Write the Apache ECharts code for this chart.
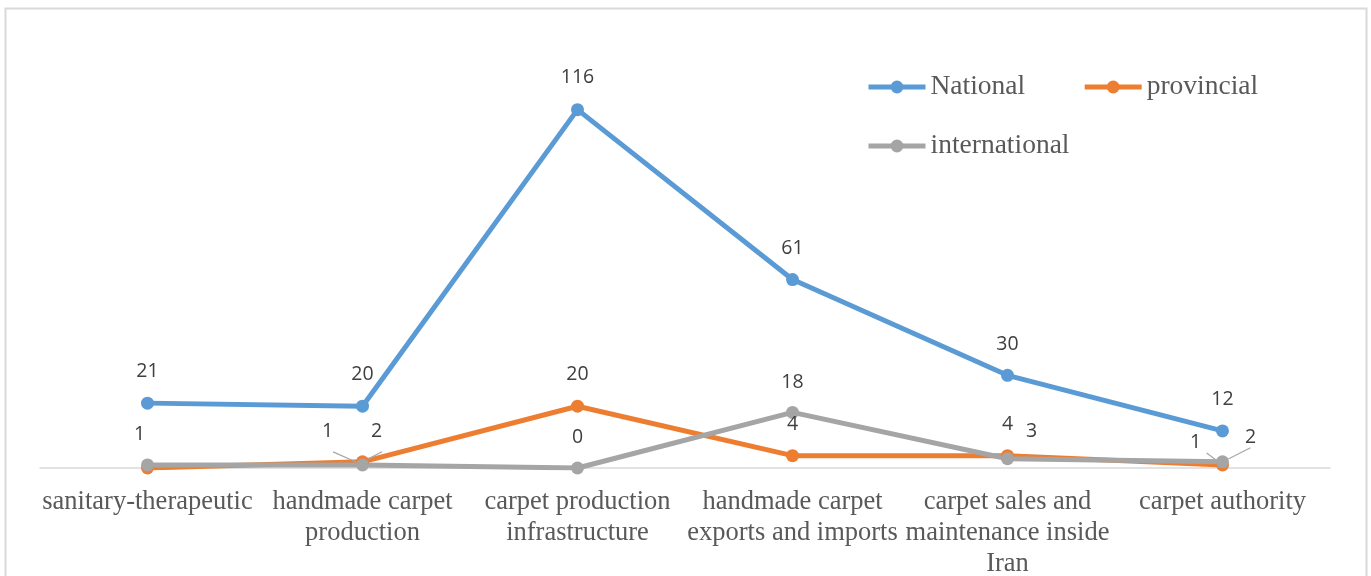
<!DOCTYPE html>
<html>
<head>
<meta charset="utf-8">
<script src="https://cdn.jsdelivr.net/npm/echarts@6/dist/echarts.min.js"></script>
<style>html,body{margin:0;padding:0;background:#fff}#c{width:1371px;height:576px}</style>
</head>
<body>
<div id="c"></div>
<script>
const categories = [
  'sanitary-therapeutic',
  'handmade carpet\nproduction',
  'carpet production\ninfrastructure',
  'handmade carpet\nexports and imports',
  'carpet sales and\nmaintenance inside\nIran',
  'carpet authority'
];
const nationalValues = [21, 20, 116, 61, 30, 12];
const provincialValues = [0, 2, 20, 4, 4, 1];
const internationalValues = [1, 1, 0, 18, 3, 2];

// label placement (style only)
const labelOffsets = {
  National: [[0,-32],[0,-32],[0,-32],[0,-31],[0,-31],[0,-31]],
  provincial: [null,[14,-30],[0,-32],[0,-31],[0,-31],[-27,-22]],
  international: [[-8,-30],[-35,-33],[0,-31],[0,-30],[24,-27],[28,-24]]
};
const leaderLines = { provincial: [1,5], international: [1,5] };

function buildData(name, values) {
  return values.map((v, i) => {
    const off = labelOffsets[name][i];
    const item = { value: v };
    if (off === null) {
      item.label = { show: false };
    } else {
      item.label = { offset: off };
    }
    if ((leaderLines[name] || []).indexOf(i) >= 0) {
      item.labelLine = { show: true, lineStyle: { color: '#a6a6a6', width: 1.2 } };
    }
    return item;
  });
}

const colors = { National: '#5b9bd5', provincial: '#ed7d31', international: '#a5a5a5' };

function makeSeries(name, values) {
  return {
    name: name,
    type: 'line',
    data: buildData(name, values),
    symbol: 'circle',
    symbolSize: 13,
    lineStyle: { width: 5, color: colors[name] },
    itemStyle: { color: colors[name] },
    label: {
      show: true,
      position: 'inside',
      color: '#404040',
      fontFamily: 'Open Sans',
      fontSize: 19.5
    },
    labelLine: { show: false },
    emphasis: { disabled: true },
    animation: false
  };
}

const legendCommon = {
  padding: 0,
  itemWidth: 57, itemHeight: 16, itemGap: 57,
  lineStyle: { width: 5 },
  textStyle: { fontFamily: 'Liberation Serif', fontSize: 27.5, color: '#595959' }
};

const chart = echarts.init(document.getElementById('c'));
chart.setOption({
  backgroundColor: '#fff',
  animation: false,
  graphic: [{
    type: 'rect',
    shape: { x: 5.5, y: 8.5, width: 1361, height: 620 },
    style: { fill: 'none', stroke: '#d9d9d9', lineWidth: 2 },
    silent: true
  }],
  legend: [Object.assign({
    data: ['National', 'provincial'],
    left: 866, top: 73
  }, legendCommon), Object.assign({
    data: ['international'],
    left: 866, top: 132
  }, legendCommon)],
  grid: { left: 40, right: 41, top: 35.5, bottom: 108, outerBoundsMode: 'none', containLabel: false },
  xAxis: {
    type: 'category',
    data: categories,
    boundaryGap: true,
    axisLine: { lineStyle: { color: '#d9d9d9', width: 1.5 } },
    axisTick: { show: false },
    axisLabel: {
      interval: 0,
      margin: 19,
      fontFamily: 'Liberation Serif',
      fontSize: 26.5,
      lineHeight: 31,
      color: '#595959'
    }
  },
  yAxis: {
    type: 'value',
    min: 0, max: 140,
    show: false,
    splitLine: { show: false }
  },
  series: [
    makeSeries('National', nationalValues),
    makeSeries('provincial', provincialValues),
    makeSeries('international', internationalValues)
  ]
});
</script>
</body>
</html>
